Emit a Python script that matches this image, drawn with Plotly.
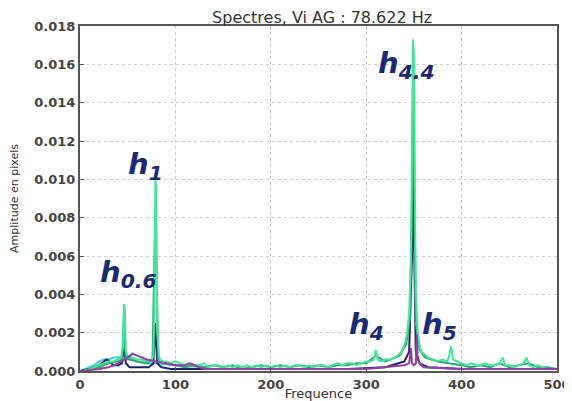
import plotly.graph_objects as go

# ---- data ----
green_f = [0,5,10,15,20,25,30,35,40,43,45,46,47,48,50,55,60,65,70,75,77,78,79,80,81,83,85,90,95,100,
           105,110,115,120,125,130,135,140,145,150,155,160,165,170,175,180,185,190,195,200,
           205,210,215,220,225,230,235,240,245,250,255,260,265,270,275,280,285,290,295,300,
           305,308,310,312,315,320,325,330,335,338,341,343,345,347,348,349,350,351,352,354,356,358,360,
           365,370,375,380,385,387,389,391,395,400,405,410,415,420,425,430,435,440,443,446,450,
           455,460,465,468,471,475,480,485,490,495,500]
green_a = [0.0000,0.0000,0.0001,0.0002,0.0003,0.0004,0.0005,0.0005,0.0006,0.0007,0.0012,0.0035,0.0033,0.0010,0.0008,
           0.0007,0.0006,0.0006,0.0005,0.0006,0.0008,0.0030,0.0100,0.0095,0.0020,0.0007,0.0005,0.0005,0.0004,0.0005,
           0.0004,0.0003,0.0004,0.0003,0.0003,0.0004,0.0002,0.0003,0.0003,0.0002,0.0003,0.0002,0.0003,0.0002,0.0003,
           0.0002,0.0003,0.0002,0.0003,0.0002,0.0003,0.0002,0.0003,0.0002,0.0003,0.0003,0.0002,0.0003,0.0002,0.0003,
           0.0003,0.0002,0.0003,0.0004,0.0003,0.0004,0.0004,0.0003,0.0004,0.0005,
           0.0005,0.0006,0.0011,0.0006,0.0005,0.0006,0.0006,0.0007,0.0009,0.0011,0.0015,0.0020,0.0030,0.0060,0.0120,
           0.0173,0.0165,0.0090,0.0040,0.0020,0.0013,0.0010,0.0009,
           0.0007,0.0006,0.0005,0.0006,0.0005,0.0008,0.0013,0.0006,0.0005,0.0004,0.0003,0.0004,0.0003,0.0003,0.0004,
           0.0003,0.0003,0.0004,0.0007,0.0003,0.0003,0.0002,0.0003,0.0004,0.0007,0.0003,0.0002,0.0003,0.0002,0.0001,
           0.0001,0.0001]

teal_f = [0,10,20,30,40,44,46,48,52,60,70,76,79,82,90,100,110,120,130,140,150,160,170,180,190,200,210,220,230,
          240,250,260,270,280,290,300,310,320,335,342,346,348,349,350,352,356,362,375,390,400,410,420,430,440,
          450,460,470,480,490,500]
teal_a = [0.0000,0.0001,0.0002,0.0004,0.0005,0.0006,0.0028,0.0006,0.0006,0.0005,0.0004,0.0006,0.0085,0.0006,
          0.0004,0.0003,0.0002,0.0003,0.0002,0.0003,0.0002,0.0003,0.0001,0.0002,0.0003,0.0002,0.0003,0.0002,
          0.0003,0.0002,0.0003,0.0002,0.0003,0.0003,0.0004,0.0004,0.0008,0.0005,0.0008,0.0014,0.0028,0.0090,
          0.0140,0.0120,0.0025,0.0011,0.0007,0.0005,0.0004,0.0003,0.0002,0.0003,0.0002,0.0004,0.0002,0.0003,
          0.0004,0.0002,0.0002,0.0001]

navy_f = [0,10,20,25,28,31,35,40,44,46,48,52,58,65,72,77,79,81,85,95,120,160,200,240,280,320,
          340,345,348,349,350,352,356,365,400,450,500]
navy_a = [0.0000,0.0001,0.0003,0.0005,0.0006,0.0005,0.0003,0.0003,0.0004,0.0015,0.0004,0.0002,0.0002,0.0002,
          0.0002,0.0004,0.0025,0.0004,0.0002,0.0001,0.0001,0.0001,0.0001,0.0001,0.0001,0.0002,
          0.0005,0.0010,0.0060,0.0106,0.0080,0.0010,0.0004,0.0002,0.0001,0.0001,0.0001]

purple_f = [0,20,30,40,50,55,60,65,70,80,90,100,110,115,120,130,180,250,300,340,345,347,348,350,352,353,354,356,
            360,400,500]
purple_a = [0.0000,0.0001,0.0002,0.0004,0.0007,0.0009,0.0008,0.0007,0.0006,0.0005,0.0004,0.0003,0.0003,0.0004,
            0.0003,0.0001,0.0001,0.0001,0.0001,0.0003,0.0004,0.0012,0.0004,0.0003,0.0004,0.0019,0.0006,0.0004,
            0.0002,0.0001,0.0001]

cyan_f = [0,5,10,15,20,25,30,35,40,45,50,60,70,80,100,130]
cyan_a = [0.0000,0.0001,0.0002,0.0003,0.0005,0.0006,0.0006,0.0007,0.0007,0.0008,0.0007,0.0005,0.0004,0.0004,
          0.0003,0.0002]

labels = ["h<sub>0.6</sub>", "h<sub>1</sub>", "h<sub>4.4</sub>", "h<sub>4</sub>", "h<sub>5</sub>"]
label_x = [51, 69, 342, 300, 377]
label_y = [0.00506, 0.0107, 0.01597, 0.00235, 0.00235]

title_text = "Spectres, Vi AG : 78.622 Hz"
x_ticks = [0, 100, 200, 300, 400, 500]
y_ticks = [0.000, 0.002, 0.004, 0.006, 0.008, 0.010, 0.012, 0.014, 0.016, 0.018]

fig = go.Figure()
series = [
    (cyan_f, cyan_a, "#48c8d8"),
    (navy_f, navy_a, "#1e2070"),
    (teal_f, teal_a, "#2fa27a"),
    (green_f, green_a, "#45e595"),
    (purple_f, purple_a, "#9040a0"),
]
for f, a, c in series:
    fig.add_trace(go.Scatter(x=f, y=a, mode="lines", line=dict(color=c, width=2),
                             showlegend=False, hoverinfo="skip"))

for t, x, y in zip(labels, label_x, label_y):
    fig.add_annotation(x=x, y=y, text="<b><i>" + t + "</i></b>", showarrow=False,
                       xanchor="center", yanchor="middle",
                       font=dict(family="DejaVu Sans", size=29, color="#1a2a72"))

fig.update_layout(
    width=564, height=393,
    margin=dict(l=72, r=15, t=18, b=30),
    paper_bgcolor="white", plot_bgcolor="white",
    title=dict(text=title_text, x=0.557, xanchor="center",
               yref="container", y=1 - 9.5 / 393, yanchor="middle",
               font=dict(family="DejaVu Sans", size=16, color="#333333")),
    font=dict(family="DejaVu Sans", color="#444444"),
)
fig.update_xaxes(range=[0, 500], tickvals=x_ticks, ticktext=[str(v) for v in x_ticks],
                 showline=True, mirror=True, linecolor="#555555", linewidth=2,
                 ticks="inside", ticklen=4, tickcolor="#555555",
                 showgrid=True, gridcolor="#cccccc", griddash="dot", zeroline=False,
                 tickfont=dict(size=13, color="#444444", weight="bold"),
                 title=dict(text="Frequence", font=dict(size=13, color="#333333"), standoff=0),
                 automargin=False)
fig.update_yaxes(range=[0, 0.018], tickvals=y_ticks, ticktext=["%.3f" % v for v in y_ticks],
                 showline=True, mirror=True, linecolor="#555555", linewidth=2,
                 ticks="inside", ticklen=4, tickcolor="#555555",
                 showgrid=True, gridcolor="#cccccc", griddash="dot", zeroline=False,
                 tickfont=dict(size=13, color="#444444", weight="bold"),
                 title=dict(text="Amplitude en pixels", font=dict(size=11, color="#333333"), standoff=22),
                 automargin=False)

fig.write_html("out.html")
